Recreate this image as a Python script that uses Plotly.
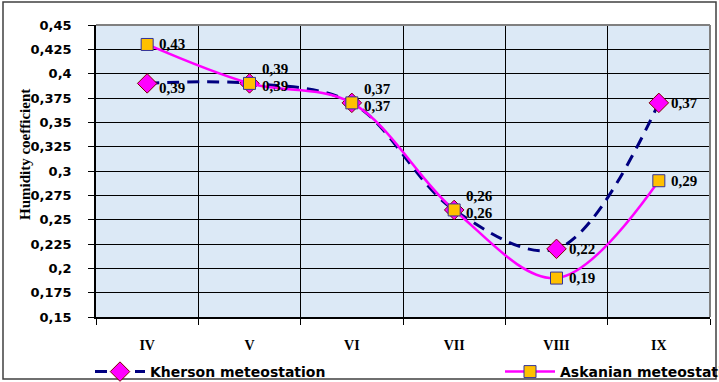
import plotly.graph_objects as go

# Months of the growing season (Roman numerals)
months = ["IV", "V", "VI", "VII", "VIII", "IX"]

# Humidity coefficient by month
kherson = [0.39, 0.39, 0.37, 0.26, 0.22, 0.37]
askania = [0.43, 0.39, 0.37, 0.26, 0.19, 0.29]

kherson_name = "Kherson meteostation"
askania_name = "Askanian meteostation"

# Y axis ticks
y_ticks = [0.15, 0.175, 0.2, 0.225, 0.25, 0.275, 0.3, 0.325, 0.35, 0.375, 0.4, 0.425, 0.45]
y_tick_labels = [f"{v:g}".replace(".", ",") for v in y_ticks]

# Vertical nudges (px) of the value labels so coincident ones don't overlap
kherson_label_dy = [-5, -3, -3, -3, 0, 0]
askania_label_dy = [0, 14, 14, 14, 0, 0]

W, H = 719, 382
L, R, T, B = 96, 9, 25, 65
pw, ph = W - L - R, H - T - B


def px_x(x):
    return (x - L) / pw


def px_y(y):
    return (H - B - y) / ph


def fmt(v):
    return f"{v:.2f}".replace(".", ",")


fig = go.Figure()

fig.add_trace(go.Scatter(
    x=months, y=kherson, name=kherson_name, mode="lines+markers",
    line=dict(color="#000080", width=3, dash="12px,8px", shape="spline", smoothing=1.0),
    marker=dict(symbol="diamond", size=15, color="#FF00FF",
                line=dict(color="#800000", width=1)),
    legend="legend", showlegend=True,
))
fig.add_trace(go.Scatter(
    x=months, y=askania, name=askania_name, mode="lines+markers",
    line=dict(color="#FF00FF", width=2.5, shape="spline", smoothing=1.0),
    marker=dict(symbol="square", size=12, color="#FFC000",
                line=dict(color="#333399", width=1)),
    legend="legend2", showlegend=True,
))

label_font = dict(family="Liberation Serif", size=15, color="#000000", weight="bold")
annotations = []
for series, dys in ((kherson, kherson_label_dy), (askania, askania_label_dy)):
    for m, v, dy in zip(months, series, dys):
        annotations.append(dict(
            x=m, y=v, xref="x", yref="y", text=fmt(v),
            showarrow=False, xanchor="left", yanchor="middle",
            xshift=11, yshift=dy, font=label_font, borderpad=0,
        ))

# Y axis title
annotations.append(dict(
    x=px_x(25), y=px_y(155), xref="paper", yref="paper",
    text="Humidity coefficient", textangle=-90, showarrow=False,
    xanchor="center", yanchor="middle",
    font=dict(family="Liberation Serif", size=15, color="#000000", weight="bold"),
))

shapes = [
    # outer chart frame
    dict(type="rect", xref="paper", yref="paper",
         x0=px_x(3), x1=px_x(716), y0=px_y(379), y1=px_y(2),
         line=dict(color="#404040", width=1.5), layer="below"),
    # plot-area frame, top and right edges
    dict(type="line", xref="paper", yref="paper", x0=0, x1=1, y0=1, y1=1,
         line=dict(color="#808080", width=2)),
    dict(type="line", xref="paper", yref="paper", x0=1, x1=1, y0=0, y1=1,
         line=dict(color="#808080", width=2)),
]

legend_font = dict(family="DejaVu Sans", size=14, color="#000000", weight="bold")

fig.update_layout(
    width=W, height=H,
    margin=dict(l=L, r=R, t=T, b=B, autoexpand=False),
    paper_bgcolor="#FFFFFF",
    plot_bgcolor="#DCE9F6",
    showlegend=True,
    annotations=annotations,
    shapes=shapes,
    legend=dict(orientation="h", x=px_x(90), xanchor="left", y=px_y(372), yanchor="middle",
                font=legend_font, bgcolor="rgba(0,0,0,0)", itemwidth=50),
    legend2=dict(orientation="h", x=px_x(500), xanchor="left", y=px_y(372), yanchor="middle",
                 font=legend_font, bgcolor="rgba(0,0,0,0)", itemwidth=50),
)

fig.update_xaxes(
    type="category", categoryorder="array", categoryarray=months,
    tickson="boundaries", ticks="outside", ticklen=6, tickcolor="#000000",
    showgrid=True, gridcolor="#000000", gridwidth=1.3,
    showline=True, linecolor="#000000", linewidth=1.5,
    tickfont=dict(family="Liberation Serif", size=14, color="#000000", weight="bold"),
    ticklabelstandoff=14,
    range=[-0.5, 5.5], fixedrange=True,
)
fig.update_yaxes(
    range=[0.15, 0.45], tickvals=y_ticks, ticktext=y_tick_labels,
    ticks="outside", ticklen=6, tickcolor="#000000",
    showgrid=True, gridcolor="#000000", gridwidth=1.3,
    showline=True, linecolor="#000000", linewidth=1.5,
    zeroline=False,
    tickfont=dict(family="DejaVu Sans", size=13, color="#000000", weight="bold"),
    ticklabelstandoff=14,
)

fig.write_html("out.html")
